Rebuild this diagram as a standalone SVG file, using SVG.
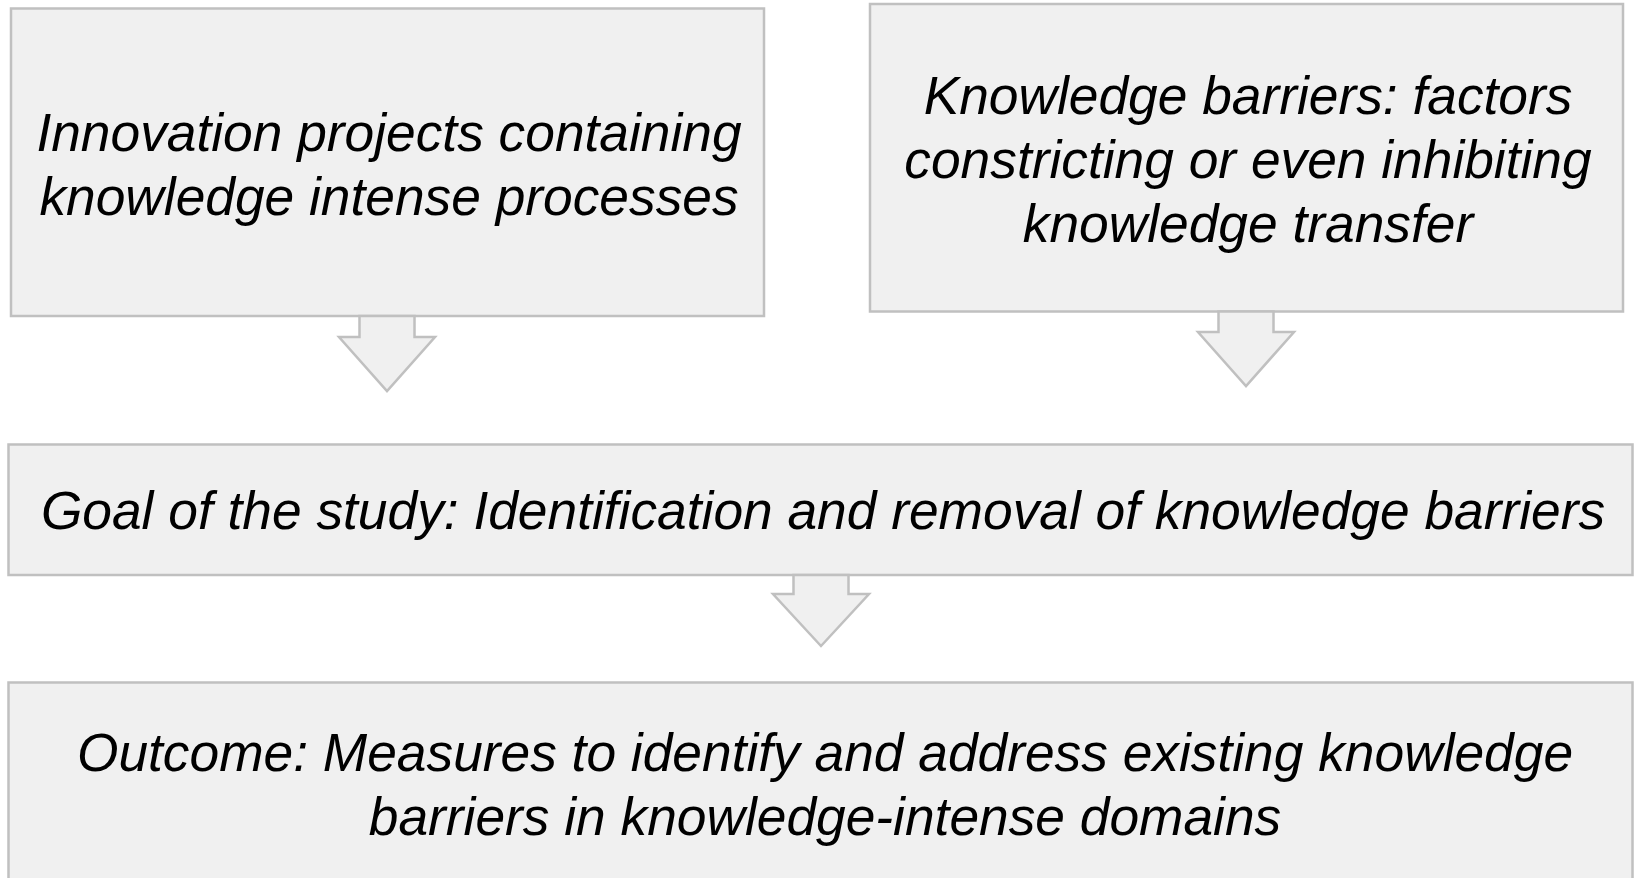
<svg xmlns="http://www.w3.org/2000/svg" width="1634" height="878" viewBox="0 0 1634 878">
  <style>
    .box { fill: #f0f0f0; stroke: #c0c0c0; stroke-width: 2.5; }
    .arrow { fill: #f0f0f0; stroke: #c0c0c0; stroke-width: 2.5; stroke-linejoin: miter; }
    .label { font-family: "Liberation Sans", Arial, sans-serif; font-style: italic; font-size: 53.3px; fill: #000; text-anchor: middle; }
  </style>
  <rect width="1634" height="878" fill="#ffffff"/>

  <g id="node-innovation">
    <rect class="box" x="11" y="8.5" width="753" height="307.5"/>
    <text class="label" x="389" y="151">Innovation projects containing</text>
    <text class="label" x="389" y="215">knowledge intense processes</text>
  </g>

  <g id="node-barriers">
    <rect class="box" x="870" y="4" width="753" height="307.5"/>
    <text class="label" x="1248" y="113.5">Knowledge barriers: factors</text>
    <text class="label" x="1248" y="177.5">constricting or even inhibiting</text>
    <text class="label" x="1248" y="241.5">knowledge transfer</text>
  </g>

  <g id="node-goal">
    <rect class="box" x="8.5" y="444.5" width="1624" height="130.5"/>
    <text class="label" x="823" y="529">Goal of the study: Identification and removal of knowledge barriers</text>
  </g>

  <g id="node-outcome">
    <rect class="box" x="8.5" y="682.5" width="1624" height="210"/>
    <text class="label" x="825" y="770.5">Outcome: Measures to identify and address existing knowledge</text>
    <text class="label" x="825" y="834.5">barriers in knowledge-intense domains</text>
  </g>

  <g id="connectors">
    <path class="arrow" d="M359.5,316 V337 H339 L387,391 L435,337 H414.5 V316 Z"/>
    <path class="arrow" d="M1218.5,311.5 V332 H1198 L1246,386 L1294,332 H1273.5 V311.5 Z"/>
    <path class="arrow" d="M793.5,575 V594 H773 L821,646 L869,594 H848.5 V575 Z"/>
  </g>
</svg>
